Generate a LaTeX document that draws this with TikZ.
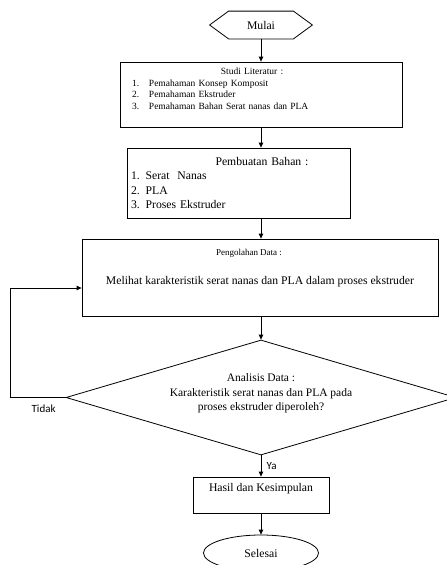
\documentclass[tikz,border=0pt]{standalone}
\usepackage{fontspec}
\setmainfont{Liberation Serif}
\newfontfamily\labelfont{Carlito}
\usetikzlibrary{shapes.geometric,arrows.meta}

\begin{document}
\begin{tikzpicture}[x=1pt,y=-1pt,
	box/.style={draw, line width=0.8pt, inner sep=0pt, font=\fontsize{11.7}{14.5}\selectfont},
	arr/.style={-{Triangle[length=5pt,width=4.5pt]}, line width=0.8pt},
	lbl/.style={font=\labelfont\fontsize{11}{13}\selectfont}]
	\useasboundingbox (0,0) rectangle (447,565);
	\node[box, draw=none, minimum width=102, minimum height=27] (mulai) at (261,25) {Mulai};
	\draw[line width=0.8pt] (mulai.west) -- ([xshift=19pt]mulai.north west) -- ([xshift=-19pt]mulai.north east)
		-- (mulai.east) -- ([xshift=-19pt]mulai.south east) -- ([xshift=19pt]mulai.south west) -- cycle;
	\node[box, minimum width=282, minimum height=65, text width=258, align=left,
		font=\fontsize{9.5}{11.5}\selectfont] (studi) at (261,94.5)
		{\makebox[\linewidth]{Studi Literatur :\hspace{18pt}}\\
		\makebox[17pt][l]{1.}Pemahaman Konsep Komposit\\
		\makebox[17pt][l]{2.}Pemahaman Ekstruder\\
		\makebox[17pt][l]{3.}Pemahaman Bahan Serat nanas dan PLA\\
		\mbox{}};
	\node[box, minimum width=223, minimum height=70, text width=215, align=left] (bahan) at (238.5,183)
		{\makebox[\linewidth]{\hspace{47pt}Pembuatan Bahan :}\\
		1. Serat\ \ Nanas\\
		2. PLA\\
		3. Proses Ekstruder};
	\node[box, minimum width=356, minimum height=77, align=center] (olah) at (260,277.5)
		{\mbox{\fontsize{9}{11}\selectfont Pengolahan Data :\hspace{22pt}}\\[14.5pt]
		Melihat karakteristik serat nanas dan PLA dalam proses ekstruder\\[7pt]
		\mbox{}};
	\node[box, diamond, aspect=3.37, minimum width=390, minimum height=115, align=center,
		font=\fontsize{11.5}{14.5}\selectfont] (analisis) at (261,397.5)
		{Analisis Data :\\
		Karakteristik serat nanas dan PLA pada\\
		proses ekstruder diperoleh?\\[-4pt]
		\mbox{}};
	\node[box, minimum width=136, minimum height=36, align=center] (hasil) at (261,495)
		{Hasil dan Kesimpulan\\ \mbox{}};
	\node[box, ellipse, minimum width=115, minimum height=36] (selesai) at (261,553) {Selesai};
	% connectors
	\draw[arr] (mulai) -- (studi);
	\draw[arr] (studi.south) -- (studi.south |- bahan.north);
	\draw[arr] (studi.south |- bahan.south) -- (studi.south |- olah.north);
	\draw[arr] (studi.south |- olah.south) -- (analisis);
	\draw[arr] (analisis) -- node[lbl, right, xshift=2pt] {Ya} (hasil);
	\draw[arr] (hasil) -- (selesai);
	\draw[arr] (analisis.west) -- node[lbl, below, pos=0.4, yshift=-4pt] {Tidak} ++(-55,0)
		|- ([yshift=-10.5pt]olah.west);
\end{tikzpicture}
\end{document}
